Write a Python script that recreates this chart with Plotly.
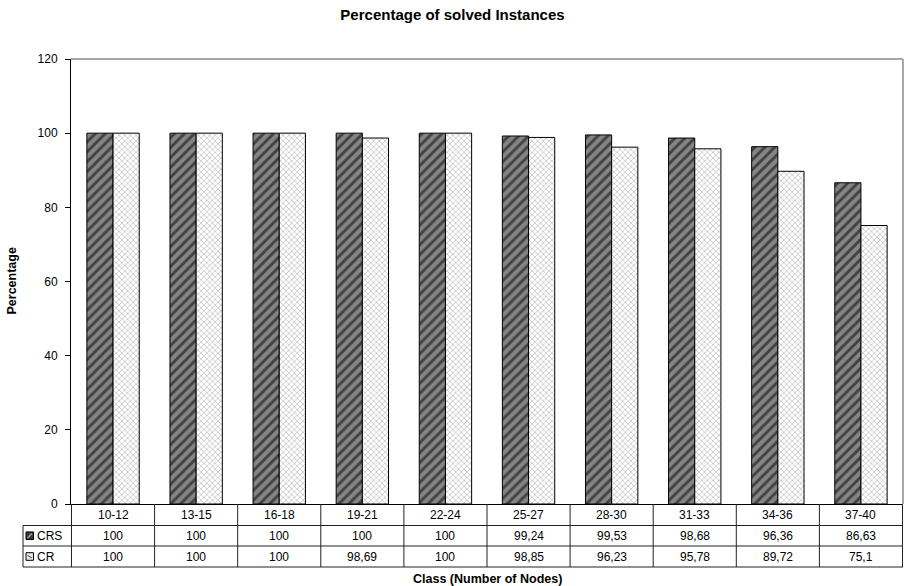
import plotly.graph_objects as go

# Chart data
classes = ["10-12", "13-15", "16-18", "19-21", "22-24", "25-27", "28-30", "31-33", "34-36", "37-40"]
crs_values = [100, 100, 100, 100, 100, 99.24, 99.53, 98.68, 96.36, 86.63]
cr_values = [100, 100, 100, 98.69, 100, 98.85, 96.23, 95.78, 89.72, 75.1]
series_names = ["CRS", "CR"]

FONT = "Liberation Sans, Arial, sans-serif"

# Plot-area geometry in pixels (used to place the data table below the axis)
FIG_W, FIG_H = 905, 586
L, R, T, B = 71, 903, 59, 504
W, H = R - L, B - T


def px_x(px):
    return (px - L) / W


def px_y(py):
    return (B - py) / H


def fmt(v):
    return str(v).replace(".", ",")


fig = go.Figure()
fig.add_trace(go.Bar(
    x=classes, y=crs_values, name=series_names[0],
    marker=dict(
        color="#808080",
        line=dict(color="black", width=1),
        pattern=dict(shape="/", fgcolor="black", bgcolor="#858585", size=7, solidity=0.42),
    ),
))
fig.add_trace(go.Bar(
    x=classes, y=cr_values, name=series_names[1],
    marker=dict(
        color="white",
        line=dict(color="black", width=1),
        pattern=dict(shape="x", fgcolor="#333333", bgcolor="white", size=4, solidity=0.22),
    ),
))

shapes = []
line_style = dict(color="#222222", width=1)

# Plot-area border (top and right)
shapes.append(dict(type="line", xref="paper", yref="paper", x0=0, x1=1, y0=1, y1=1,
                   line=dict(color="#a8a8a8", width=2)))
shapes.append(dict(type="line", xref="paper", yref="paper", x0=1, x1=1, y0=0, y1=1,
                   line=dict(color="#a8a8a8", width=2)))

# Data table grid
row_tops = [504, 525.5, 546, 567]
for i in range(len(classes) + 1):
    shapes.append(dict(type="line", xref="x", yref="paper", x0=i - 0.5, x1=i - 0.5,
                       y0=px_y(row_tops[0]), y1=px_y(row_tops[-1]), line=line_style))
for ry in row_tops[1:]:
    shapes.append(dict(type="line", xref="paper", yref="paper", x0=px_x(23), x1=px_x(R),
                       y0=px_y(ry), y1=px_y(ry), line=line_style))
shapes.append(dict(type="line", xref="paper", yref="paper", x0=px_x(23), x1=px_x(23),
                   y0=px_y(row_tops[1]), y1=px_y(row_tops[-1]), line=line_style))

# Legend keys inside the table
k0, k1 = 26, 33.5
c1 = (row_tops[1] + row_tops[2]) / 2
c2 = (row_tops[2] + row_tops[3]) / 2
shapes.append(dict(type="rect", xref="paper", yref="paper",
                   x0=px_x(k0), x1=px_x(k1), y0=px_y(c1 + 3.8), y1=px_y(c1 - 3.8),
                   fillcolor="#3a3a3a", line=dict(color="black", width=1)))
shapes.append(dict(type="line", xref="paper", yref="paper",
                   x0=px_x(k0 + 1.5), x1=px_x(k1 - 1.5), y0=px_y(c1 + 2.3), y1=px_y(c1 - 2.3),
                   line=dict(color="#9a9a9a", width=1.5)))
shapes.append(dict(type="rect", xref="paper", yref="paper",
                   x0=px_x(k0), x1=px_x(k1), y0=px_y(c2 + 3.8), y1=px_y(c2 - 3.8),
                   fillcolor="#e6e6e6", line=dict(color="black", width=1)))
shapes.append(dict(type="line", xref="paper", yref="paper",
                   x0=px_x(k0 + 1.5), x1=px_x(k1 - 1.5), y0=px_y(c2 - 1), y1=px_y(c2 + 1.5),
                   line=dict(color="#444444", width=1)))

annotations = []
tfont = dict(family=FONT, size=12, color="black")
cat_c = (row_tops[0] + row_tops[1]) / 2
for i, c in enumerate(classes):
    annotations.append(dict(x=i, y=px_y(cat_c), xref="x", yref="paper", text=c,
                            showarrow=False, font=tfont, xanchor="center", yanchor="middle"))
    annotations.append(dict(x=i, y=px_y(c1), xref="x", yref="paper", text=fmt(crs_values[i]),
                            showarrow=False, font=tfont, xanchor="center", yanchor="middle"))
    annotations.append(dict(x=i, y=px_y(c2), xref="x", yref="paper", text=fmt(cr_values[i]),
                            showarrow=False, font=tfont, xanchor="center", yanchor="middle"))
for name, cy in zip(series_names, [c1, c2]):
    annotations.append(dict(x=px_x(35), y=px_y(cy), xref="paper", yref="paper", text=name,
                            showarrow=False, font=tfont, xanchor="left", yanchor="middle"))

# Axis titles
annotations.append(dict(x=0.5, y=px_y(578.5), xref="paper", yref="paper",
                        text="<b>Class (Number of Nodes)</b>", showarrow=False,
                        font=dict(family=FONT, size=12.5, color="black"),
                        xanchor="center", yanchor="middle"))
annotations.append(dict(x=px_x(11), y=0.5, xref="paper", yref="paper",
                        text="<b>Percentage</b>", showarrow=False, textangle=-90,
                        font=dict(family=FONT, size=12.5, color="black"),
                        xanchor="center", yanchor="middle"))

fig.update_layout(
    width=FIG_W, height=FIG_H,
    margin=dict(l=L, r=FIG_W - R, t=T, b=FIG_H - B, pad=0),
    paper_bgcolor="white", plot_bgcolor="white",
    title=dict(text="<b>Percentage of solved Instances</b>", x=0.5, xref="container",
               y=1 - 14.5 / FIG_H, yref="container", yanchor="middle", xanchor="center",
               font=dict(family=FONT, size=15, color="black")),
    barmode="group", bargap=0.37, bargroupgap=0,
    showlegend=False,
    shapes=shapes, annotations=annotations,
    font=dict(family=FONT, size=12, color="black"),
)
fig.update_xaxes(type="category", showticklabels=False, ticks="", showline=True,
                 linecolor="black", linewidth=1, showgrid=False, zeroline=False)
fig.update_yaxes(range=[0, 120], dtick=20, ticks="outside", ticklen=5, tickcolor="black",
                 showline=True, linecolor="black", linewidth=1, showgrid=False, zeroline=False,
                 tickfont=dict(family=FONT, size=12, color="black"), ticklabelstandoff=5)

fig.write_html("out.html")
